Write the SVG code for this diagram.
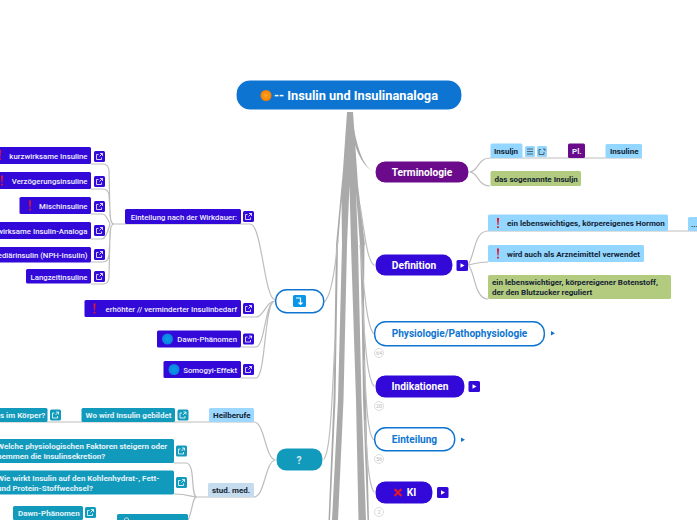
<svg xmlns="http://www.w3.org/2000/svg" width="697" height="520" viewBox="0 0 697 520">
<style>
text{font-family:Roboto,"Liberation Sans",sans-serif}
.v{fill:#3209d9}.t{fill:#129abd}.l{fill:#93d6ff}.g{fill:#b2cb7f}.p{fill:#6b0b8b}.o{fill:#fff;stroke:#0d75d1;stroke-width:1.4}
.h{stroke:#fff;stroke-width:1.2}
.s{font-size:7.800px;font-weight:500;fill:#f0eeff;text-anchor:end}
.d{font-size:8px;font-weight:700;fill:#142433}
.w{font-size:8px;font-weight:700;fill:#e4f3f8}
.m{font-size:10.200px;font-weight:700;fill:#fff;text-anchor:middle}
.b{font-size:10.100px;font-weight:700;fill:#0d75d1;text-anchor:middle}
.c{fill:#fff;stroke:#ddd;stroke-width:1}
.n{font-size:5.500px;fill:#bbb;text-anchor:middle}
.ln{fill:none;stroke:#bdbdbd;stroke-width:1.200}
.tr{fill:#aaa}
.ic{fill:none;stroke:#fff;stroke-width:.8}
.r{fill:#e3172c}
</style>
<defs>
<g id="ext"><rect width="11" height="11" rx="1.500"/><path class="ic" d="M7.500 6.500v2h-5v-5h2M6 2.500h2.500V5M8.500 2.500 5.500 5.500"/></g>
<g id="bang"><path class="r" d="M-1.100-5h2.200L.5 2h-1zM-.9 3.200h1.800v1.800h-1.800z"/></g>
<g id="play"><rect width="11.500" height="11" rx="1.500" class="v"/><path d="M4 3.300 8 5.500 4 7.700z" fill="#fff"/></g>
<radialGradient id="bl"><stop offset="0" stop-color="#0a9be8"/><stop offset="1" stop-color="#0c7fe0"/></radialGradient>
<radialGradient id="or"><stop offset="0" stop-color="#ffa726"/><stop offset="1" stop-color="#f57c00"/></radialGradient>
</defs>

<g id="connectors">
<path class="tr" d="M347 112H353L358 185 365 245H360L356 192 358 245H351L349.500 185 347 245H342L341.500 200 338 245H336L343 170Z"/>
<path class="tr" d="M342 245H347L343.500 400 338 520H332L338 400Z"/>
<path class="tr" d="M351 245H358L361.500 400 366 520H358.500L356 400Z"/>
<path class="tr" d="M360 245H364.500L364 300 366 400 369 520H367.500L363 400 361.500 300Z"/>
<path class="tr" d="M336 245H338L335.500 400 330 520H328.500L333.500 400Z"/>
<path class="tr" d="M352 118C356 142 362 168 375 172 361 167 354 146 349 122z"/>
<path class="ln" d="M360 205C365 235 367 262 375 266M360 245C364 290 367 328 374 334M362 300C365 340 367 382 375 387M364 360C366 395 367 435 374 440M365 420C367 450 368 488 375 493"/>
<path class="ln" d="M338 240C335 270 331 298 324 302M335 340C332 395 331 455 323 460"/>

<path class="ln" d="M469 172C479 172 477 158 490 158H642M469 172C479 172 477 186 490 186"/>
<path class="ln" d="M468 265C475 255 474 231 488 231H697M468 265C475 264 476 262 488 262M468 265C475 270 474 299 488 299"/>

<path class="ln" d="M275 300C264 298 262 224 250 224H113M91 164H103Q108 164 109 170L110 215Q111 224 114 224M91 189H103Q108 189 109 195L110.500 218Q111 224 114 224M91 214H102Q106 214 110 224M91 239H102Q106 239 110 224M91 262H103Q108 262 109 255L110.500 230Q111 224 114 224M91 284H103Q108 284 109 278L110 232Q111 224 114 224"/>
<path class="ln" d="M275 301C266 301 264 317 256 317H241M275 301C265 301 265 347 256 347H241M275 301C264 301 266 378 256 378H241"/>
<path class="ln" d="M276 460C265 460 265 422 254 422H0M276 460C265 460 265 497 254 497H197M197 497C190 497 196 463 186 463H174M197 497C192 497 188 494 174 494M197 497C192 497 193 510 188 520"/>
</g>

<g id="root"><rect class="h" x="236" y="80" width="226" height="30" rx="14" fill="#0d75d1"/><circle cx="266" cy="95.500" r="5.500" fill="url(#or)"/><text x="274" y="99.500" font-size="12.800px" font-weight="700" fill="#fff">-- Insulin und Insulinanaloga</text></g>

<g id="terminologie"><rect class="p h" x="375" y="161" width="94" height="22" rx="10"/><text class="m" x="422" y="176">Terminologie</text></g>
<g id="insuljn"><rect class="l" x="490.500" y="143.500" width="32" height="14.500" rx="1.500"/><text class="d" x="494" y="154">Insuljn</text><rect class="l" x="525" y="146" width="10" height="11" rx="1.500"/><path d="M527 149h6M527 151.500h6M527 154h6" stroke="#333" stroke-width=".7"/><rect class="l" x="537" y="146" width="10" height="11" rx="1.500"/><path d="M544 152v2.500h-5v-5h2M543 149h2v2" fill="none" stroke="#333" stroke-width=".7"/></g>
<g id="pl"><rect class="p" x="568" y="143.500" width="17" height="14.500" rx="1.500"/><text class="w" x="572" y="154">Pl.</text></g>
<g id="insuline"><rect class="l" x="605.500" y="144" width="36.500" height="14" rx="1.500"/><text class="d" x="610" y="154">Insuline</text></g>
<g id="sogenannte"><rect class="g" x="490.500" y="171" width="90.500" height="15" rx="1.500"/><text class="d" x="494.500" y="181.500">das sogenannte Insuljn</text></g>

<g id="definition"><rect class="v h" x="375" y="254" width="78" height="22" rx="10"/><text class="m" x="414" y="269">Definition</text><use href="#play" x="456.500" y="260"/></g>
<g id="hormon"><rect class="l" x="488" y="214.500" width="180" height="16.500" rx="1.500"/><use href="#bang" x="498" y="223"/><text class="d" x="507" y="226">ein lebenswichtiges, körpereigenes Hormon</text></g>
<g id="dots"><rect class="l" x="688" y="217" width="12" height="14" rx="1.500"/><text class="d" x="691" y="227">...</text></g>
<g id="arznei"><rect class="l" x="488" y="245" width="156" height="17" rx="1.500"/><use href="#bang" x="498" y="253.500"/><text class="d" x="507" y="256.500">wird auch als Arzneimittel verwendet</text></g>
<g id="botenstoff"><rect class="g" x="488" y="275" width="183" height="24" rx="1.500"/><text class="d" x="492" y="284.500">ein lebenswichtiger, körpereigener Botenstoff,</text><text class="d" x="492" y="294.500">der den Blutzucker reguliert</text></g>

<g id="physiologie"><rect class="o" x="374.700" y="321.700" width="169.600" height="24" rx="11"/><text class="b" x="459.500" y="337">Physiologie/Pathophysiologie</text><path d="M551 331l4 2.200-4 2.200z" fill="#0d75d1"/><circle class="c" cx="379" cy="353" r="4.500"/><text class="n" x="379" y="355">64</text></g>
<g id="indikationen"><rect class="v h" x="375" y="375" width="90" height="23" rx="10"/><text class="m" x="420" y="390">Indikationen</text><use href="#play" x="468.500" y="381"/><circle class="c" cx="379" cy="406" r="4.500"/><text class="n" x="379" y="408">20</text></g>
<g id="einteilung"><rect class="o" x="374.700" y="427.700" width="80" height="23" rx="11"/><text class="b" x="414.500" y="443">Einteilung</text><path d="M461 437.500l4 2.200-4 2.200z" fill="#0d75d1"/><circle class="c" cx="379" cy="459" r="4.500"/><text class="n" x="379" y="461">56</text></g>
<g id="ki"><rect class="v h" x="375" y="481" width="58" height="23" rx="10"/><path d="M394.500 489l7 7M401.500 489l-7 7" stroke="#e3172c" stroke-width="2.200"/><text class="m" x="411.500" y="496">KI</text><use href="#play" x="437" y="487"/><circle class="c" cx="379" cy="512" r="4.500"/><text class="n" x="379" y="514">2</text></g>

<g id="einteilung-wirkdauer"><rect class="v" x="125" y="209" width="116" height="15" rx="1.500"/><text class="s" x="237" y="219.500">Einteilung nach der Wirkdauer:</text><use href="#ext" class="v" x="243" y="211"/></g>
<g id="kurz"><rect class="v" x="-10" y="147" width="101" height="17" rx="1.500"/><use href="#bang" x="0" y="155"/><text class="s" x="87.500" y="159">kurzwirksame Insuline</text><use href="#ext" class="v" x="94" y="151"/></g>
<g id="verz"><rect class="v" x="-10" y="172" width="101" height="17" rx="1.500"/><use href="#bang" x="2" y="180.500"/><text class="s" x="87.500" y="184">Verzögerungsinsuline</text><use href="#ext" class="v" x="94" y="176"/></g>
<g id="misch"><rect class="v" x="19.500" y="197" width="71.500" height="17" rx="1.500"/><use href="#bang" x="30" y="205.500"/><text class="s" x="87.500" y="209">Mischinsuline</text><use href="#ext" class="v" x="94" y="201"/></g>
<g id="analoga"><rect class="v" x="-10" y="222" width="101" height="17" rx="1.500"/><text class="s" x="87.500" y="234">wirksame Insulin-Analoga</text><use href="#ext" class="v" x="94" y="225"/></g>
<g id="nph"><rect class="v" x="-10" y="247" width="101" height="15.500" rx="1.500"/><text class="s" x="87.500" y="257.500">ediärinsulin (NPH-Insulin)</text><use href="#ext" class="v" x="94" y="249"/></g>
<g id="langzeit"><rect class="v" x="26" y="269" width="65" height="14.500" rx="1.500"/><text class="s" x="87.500" y="279.500">Langzeitinsuline</text><use href="#ext" class="v" x="94" y="271"/></g>

<g id="arrow-node"><rect class="o" x="275.700" y="289.700" width="48" height="23" rx="11"/><rect x="293" y="295" width="13" height="12" rx="1.500" fill="#0a96e6"/><path d="M296 298h4.500v6M298.500 302.500l2 2 2-2" fill="none" stroke="#fff" stroke-width="1.200"/></g>
<g id="bedarf"><rect class="v" x="84.500" y="300" width="156.500" height="17" rx="1.500"/><use href="#bang" x="94.500" y="308.500"/><text class="s" x="237" y="312">erhöhter // verminderter Insulinbedarf</text><use href="#ext" class="v" x="243" y="303"/></g>
<g id="dawn"><rect class="v" x="157" y="330.500" width="84" height="17" rx="1.500"/><circle cx="167.500" cy="339" r="5.500" fill="url(#bl)"/><text class="s" x="237" y="342">Dawn-Phänomen</text><use href="#ext" class="v" x="243" y="333.500"/></g>
<g id="somogyi"><rect class="v" x="163.500" y="361" width="77.500" height="17" rx="1.500"/><circle cx="174" cy="369.500" r="5.500" fill="url(#bl)"/><text class="s" x="237" y="373">Somogyi-Effekt</text><use href="#ext" class="v" x="243" y="364"/></g>

<g id="frage"><rect class="t h" x="276" y="448" width="47" height="23" rx="10"/><text class="m" x="299" y="464" style="fill:#d6e8ee">?</text></g>
<g id="heilberufe"><rect x="209" y="408" width="45" height="14" rx="1.500" fill="#9bd7ff"/><text class="d" x="213" y="418">Heilberufe</text></g>
<g id="gebildet"><rect class="t" x="81.500" y="408" width="93.500" height="14" rx="1.500"/><text class="w" x="85.500" y="418">Wo wird Insulin gebildet</text><use href="#ext" class="t" x="177.500" y="409.500"/></g>
<g id="koerper"><rect class="t" x="-5" y="408" width="52.500" height="14" rx="1.500"/><text class="w" x="0" y="418">s im Körper?</text><use href="#ext" class="t" x="50" y="409.500"/></g>
<g id="faktoren"><rect class="t" x="-5" y="439" width="179" height="24" rx="1.500"/><text class="w" x="-3" y="449">Welche physiologischen Faktoren steigern oder</text><text class="w" x="-3" y="459">hemmen die Insulinsekretion?</text><use href="#ext" class="t" x="176" y="445.500"/></g>
<g id="stoffwechsel"><rect class="t" x="-5" y="470.500" width="179" height="24" rx="1.500"/><text class="w" x="-3" y="480.500">Wie wirkt Insulin auf den Kohlenhydrat-, Fett-</text><text class="w" x="-3" y="490.500">und Protein-Stoffwechsel?</text><use href="#ext" class="t" x="176" y="477"/></g>
<g id="stud"><rect x="208" y="483" width="46" height="14" rx="1.500" fill="#c5dcee"/><text class="d" x="212" y="493">stud. med.</text></g>
<g id="dawn2"><rect class="t" x="13" y="506" width="70" height="14" rx="1.500"/><text class="w" x="18" y="516">Dawn-Phänomen</text><use href="#ext" class="t" x="85" y="507"/></g>
<g id="lupe"><rect class="t" x="117" y="514" width="71" height="10" rx="1.500"/><circle cx="126.500" cy="520" r="2.200" fill="none" stroke="#d8d8d8" stroke-width="1"/></g>
</svg>
